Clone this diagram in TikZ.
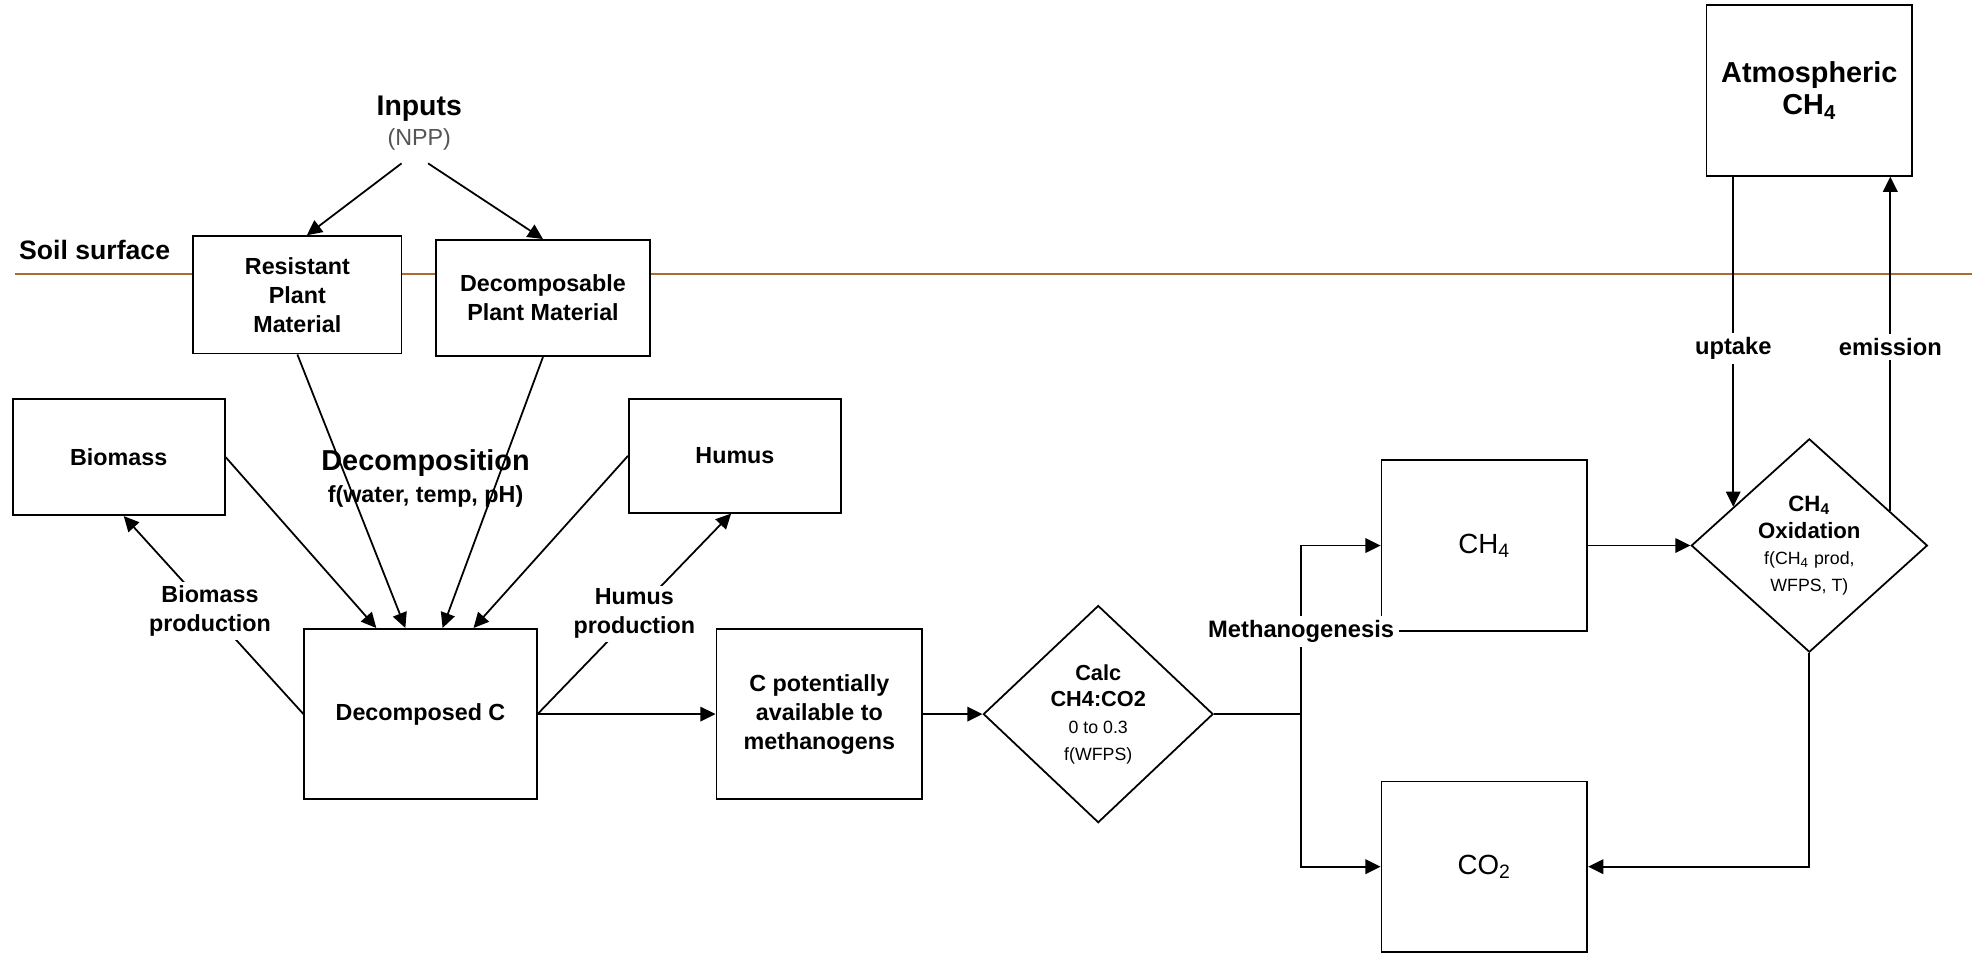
\documentclass[tikz,border=0pt]{standalone}
\usepackage{fontspec}
\setmainfont{Liberation Sans}
\usepackage{xcolor}
\usepackage{tikz}
\usetikzlibrary{arrows.meta,positioning,shapes.geometric,calc}

\definecolor{soilbrown}{RGB}{172,108,48}
\definecolor{notegray}{RGB}{85,85,85}
\newcommand{\notefont}{\mdseries\fontsize{8}{9}\selectfont}

\begin{document}
\begin{tikzpicture}[
  x=0.02cm, y=-0.02cm,
  blk/.style={draw, fill=white, line width=0.8pt, align=center, inner sep=1pt, font=\bfseries\fontsize{10.5}{13.1}\selectfont},
  gas/.style={draw, fill=white, line width=0.8pt, align=center, minimum width=3.26cm, minimum height=2.7cm, font=\fontsize{12.5}{15}\selectfont},
  dia/.style={diamond, draw, fill=white, line width=0.8pt, align=center, inner sep=0pt},
  arr/.style={-{Triangle[length=0.24cm, width=0.23cm]}, line width=0.8pt},
  lab/.style={fill=white, inner sep=1.5pt, align=center, font=\bfseries\fontsize{10.5}{13.1}\selectfont},
  flux/.style={fill=white, inner sep=2pt, font=\bfseries\fontsize{10.7}{12}\selectfont}
]
\useasboundingbox (0,0) rectangle (1568,754);

% soil surface
\draw[soilbrown, line width=0.9pt] (12,217) -- (1562,217);
\node[anchor=west, font=\bfseries\fontsize{12}{14}\selectfont] (soil) at (9,198) {Soil surface};

% inputs
\node[font=\bfseries\fontsize{12.8}{15}\selectfont] (inp) at (332,86) {Inputs};
\node[font=\fontsize{10.5}{12}\selectfont, text=notegray, below=-0.14cm of inp] (npp) {(NPP)};

% carbon pools
\node[blk, minimum width=3.3cm, minimum height=1.86cm] (res) at (235.5,233.5) {Resistant\\Plant\\Material};
\node[blk, minimum width=3.4cm, minimum height=1.84cm] (dpm) at (430,236) {Decomposable\\Plant Material};
\node[blk, minimum width=3.36cm, minimum height=1.84cm] (bio) at (94,362) {Biomass};
\node[blk, minimum width=3.36cm, minimum height=1.8cm] (hum) at (582,361) {Humus};
\node[blk, minimum width=3.68cm, minimum height=2.7cm] (dcp) at (333,565.5) {Decomposed C};
\node[blk, minimum width=3.26cm, minimum height=2.7cm, right=2.82cm of dcp] (cpot) {C potentially\\available to\\methanogens};

\node[font=\bfseries\fontsize{13}{15}\selectfont] (dtxt) at (337,367) {Decomposition};
\node[font=\bfseries\fontsize{10.5}{12}\selectfont] (dfun) at (337,393) {f(water, temp, pH)};

% methane side
\node[dia, minimum width=3.64cm, minimum height=3.44cm, font=\bfseries\fontsize{9.8}{12}\selectfont, right=0.94cm of cpot] (calc)
  {Calc\\CH4:CO2\\{\notefont 0 to 0.3}\\{\notefont f(WFPS)}};
\node[gas] (ch4) at (1175.5,432) {CH\textsubscript{4}};
\node[gas, below=2.36cm of ch4] (co2) {CO\textsubscript{2}};
\node[dia, minimum width=3.74cm, minimum height=3.38cm, font=\bfseries\fontsize{10}{12}\selectfont, right=1.62cm of ch4] (oxi)
  {CH\textsubscript{4}\\Oxidation\\{\notefont f(CH\textsubscript{4} prod,}\\{\notefont WFPS, T)}};
\node[draw, fill=white, line width=0.8pt, align=center, minimum width=3.26cm, minimum height=2.7cm,
  font=\bfseries\fontsize{13}{14.5}\selectfont, above=4.14cm of oxi] (atm) {Atmospheric\\CH\textsubscript{4}};

% flows
\draw[arr] ([xshift=-0.28cm, yshift=-0.09cm]npp.south) -- ([xshift=0.15cm]res.north);
\draw[arr] ([xshift=0.14cm, yshift=-0.09cm]npp.south) -- (dpm.north);

\draw[arr] (bio.east) -- ([xshift=-0.7cm]dcp.north);
\draw[arr] (res.south) -- ([xshift=-0.24cm]dcp.north);
\draw[arr] (dpm.south) -- ([xshift=0.35cm]dcp.north);
\draw[arr] (hum.west) -- ([xshift=0.84cm]dcp.north);

\draw[arr] (dcp.west) -- node[lab, pos=0.52] {Biomass\\production} ([xshift=0.08cm]bio.south);
\draw[arr] (dcp.east) -- node[lab, pos=0.5] {Humus\\production} ([xshift=-0.06cm]hum.south);

\draw[arr] (dcp) -- (cpot);
\draw[arr] (cpot) -- (calc);

\coordinate[right=1.38cm of calc.east] (split);
\draw[arr] (calc.east) -- (split) |- (ch4.west);
\draw[arr] (split) |- (co2.west);
\node[flux] (meth) at (split |- ch4.south) {Methanogenesis};

\draw[arr] (ch4) -- (oxi);
\draw[arr] (oxi.south) |- (co2.east);
\draw[arr] (oxi.153 |- atm.south) -- node[flux, pos=0.52] {uptake} (oxi.153);
\draw[arr] (oxi.23) -- node[flux, pos=0.49] {emission} (oxi.23 |- atm.south);
\end{tikzpicture}
\end{document}
